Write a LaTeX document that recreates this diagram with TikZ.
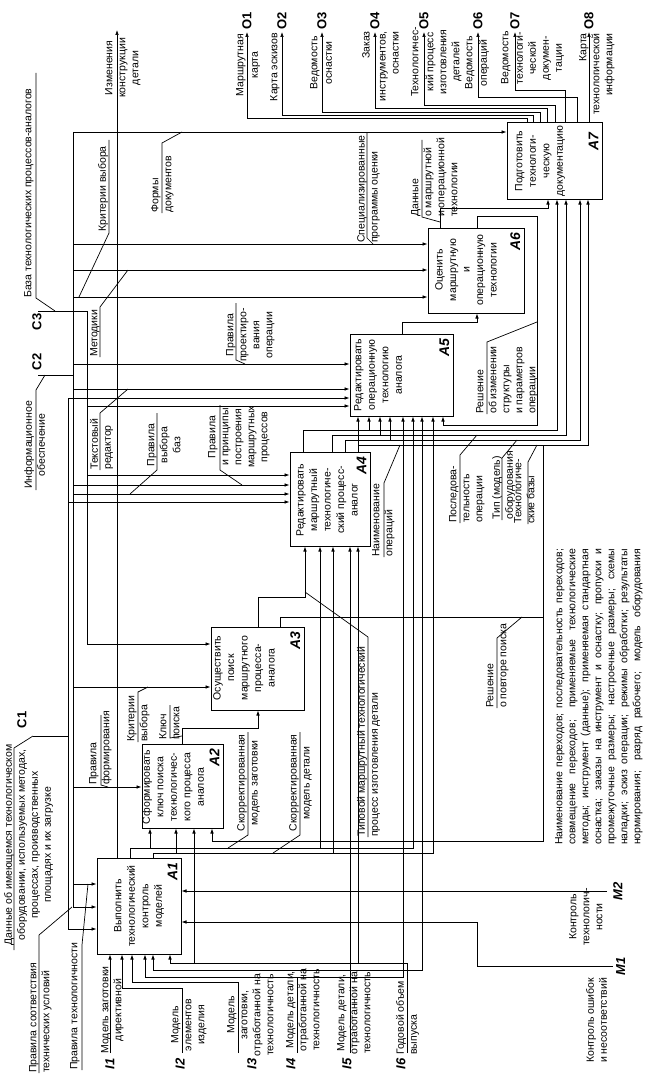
\documentclass[tikz,border=0pt]{standalone}
\usepackage{fontspec}
\setmainfont{Liberation Sans}
\usetikzlibrary{positioning,calc,fit,arrows.meta}

\newcommand{\lblfont}{\fontsize{10.5}{13}\selectfont}
\newcommand{\boxfont}{\fontsize{10.5}{13.5}\selectfont}
\newcommand{\tagfont}{\fontsize{13}{13}\selectfont\bfseries}
\newcommand{\numfont}{\fontsize{14}{14}\selectfont\bfseries\itshape}

\tikzset{
  blk/.style={draw, line width=1pt, inner sep=0pt, fit={#1}},
  ln/.style={line width=0.7pt},
  arr/.style={ln, -{Latex[length=5pt,width=3.6pt]}},
  lbl/.style={rotate=90, inner sep=0pt, font=\lblfont, align=center},
  lbll/.style={lbl, align=left},
  lblr/.style={lbl, align=right},
  btxt/.style={rotate=90, inner sep=0pt, font=\boxfont, align=center},
  num/.style={rotate=90, inner sep=0pt, font=\numfont, anchor=south east},
  tag/.style={rotate=90, inner sep=0pt, font=\tagfont},
  itag/.style={tag, font=\tagfont\itshape},
}

\begin{document}
\begin{tikzpicture}[x=1pt, y=-1pt]
\useasboundingbox (0,0) rectangle (649,1089);

% function blocks
\node[blk={(97,858)(181,954)}] (A1) {};
\node[blk={(142,744)(223,828)}] (A2) {};
\node[blk={(211,627)(304,710)}] (A3) {};
\node[blk={(290,452)(370,546)}] (A4) {};
\node[blk={(350,334)(453,416)}] (A5) {};
\node[blk={(428,228)(524,313)}] (A6) {};
\node[blk={(507,123)(602,199)}] (A7) {};

\node[btxt] at (139,906) {Выполнить\\технологический\\контроль\\моделей};
\node[btxt] at (173,787) {Сформировать\\ключ поиска\\технологичес-\\кого процесса\\аналога};
\node[btxt] at (244,668) {Осуществить\\поиск\\маршрутного\\процесса-\\аналога};
\node[btxt] at (327,500) {Редактировать\\маршрутный\\технологиче-\\ский процесс-\\аналог};
\node[btxt] at (378,375) {Редактировать\\операционную\\технологию\\аналога};
\node[btxt] at (466,270) {Оценить\\маршрутную\\и\\операционную\\технологии};
\node[btxt] at (540,161) {Подготовить\\технологи-\\ческую\\документацию};

\node[num] at ([xshift=-4pt,yshift=-5pt]A1.north east) {A1};
\node[num] at ([xshift=-4pt,yshift=-5pt]A2.north east) {A2};
\node[num] at ([xshift=-4pt,yshift=-5pt]A3.north east) {A3};
\node[num] at ([xshift=-4pt,yshift=-5pt]A4.north east) {A4};
\node[num] at ([xshift=-4pt,yshift=-5pt]A5.north east) {A5};
\node[num] at ([xshift=-4pt,yshift=-5pt]A6.north east) {A6};
\node[num] at ([xshift=-4pt,yshift=-10pt]A7.north east) {A7};

% controls
\coordinate (c1) at (33,736);
\coordinate (c2) at (38,375);
\coordinate (c3) at (38,311);
\node[tag] at (22,720) {C1};
\node[tag] at (37,362) {C2};
\node[tag] at (37,322) {C3};
\draw[ln] (c3) -| (87,644);
\draw[ln] (c2) -- (73,375);
\draw[ln] (73,132) -- (73,907);
\draw[ln] (c1) -| (68,398);
\draw[ln] (68,736) -- (68,929);
\draw[arr] (73,132) -- (0,132 -| A7.west);
\draw[arr] (73,244) -- (0,244 -| A6.west);
\draw[arr] (73,270) -- (0,270 -| A6.west);
\draw[arr] (73,297) -- (0,297 -| A6.west);
\draw[arr] (73,364) -- (0,364 -| A5.west);
\draw[arr] (73,389) -- (0,389 -| A5.west);
\draw[arr] (68,398) -- (0,398 -| A5.west);
\draw[arr] (87,406) -- (0,406 -| A5.west);
\draw[arr] (87,475) -- (0,475 -| A4.west);
\draw[arr] (73,485) -- (0,485 -| A4.west);
\draw[arr] (73,494) -- (0,494 -| A4.west);
\draw[arr] (68,502) -- (0,502 -| A4.west);
\draw[arr] (87,644) -- (0,644 -| A3.west);
\draw[arr] (73,687) -- (0,687 -| A3.west);
\draw[arr] (73,787) -- (0,787 -| A2.west);
\draw[arr] (73,884) -- (0,884 -| A1.west);
\draw[arr] (73,907) -- (0,907 -| A1.west);
\draw[arr] (68,929) -- (0,929 -| A1.west);

% control labels
\node[lbll, anchor=north west] at (24,298) {База технологических процессов-аналогов};
\draw[ln] (36,73) -- (36,298) -- (55,311);
\node[lbl, anchor=north] at (24,445) {Информационное\\обеспечение};
\draw[ln] (36,490) -- (36,390) -- (45,375);
\node[lbl, anchor=north] at (4,845) {Данные об имеющемся технологическом\\оборудовании, используемых методах,\\процессах, производственных\\площадях и их загрузке};
\draw[ln] (14,950) -- (14,748) -- (c1);
\node[lbll, anchor=north west] at (98,232) {Критерии выбора};
\draw[ln] (109,140) -- (109,233) -- (79,297);
\node[lbll, anchor=north west] at (151,213) {Формы\\документов};
\draw[ln] (162,213) -- (162,143) -- (182,132);
\node[lbll, anchor=north west] at (357,243) {Специализированные\\программы оценки};
\draw[ln] (367,133) -- (367,238) -- (373,244);
\node[lbll, anchor=north west] at (90,357) {Методики};
\draw[ln] (100,357) -- (100,307) -- (128,270);
\node[lbl, anchor=north] at (226,335) {Правила\\проектиро-\\вания\\операции};
\draw[ln] (236,303) -- (236,360) -- (245,364);
\node[lbll, anchor=north west] at (90,470) {Текстовый\\редактор};
\draw[ln] (100,470) -- (100,413) -- (128,389);
\node[lbl, anchor=north] at (147,445) {Правила\\выбора\\баз};
\draw[ln] (157,413) -- (157,470) -- (130,494);
\node[lbl, anchor=north] at (208,437) {Правила\\и принципы\\построения\\маршрутных\\процессов};
\draw[ln] (220,405) -- (220,470) -- (242,485);
\node[lbll, anchor=north west] at (127,742) {Критерии\\выбора};
\draw[ln] (138,742) -- (138,692) -- (148,687);
\node[lbll, anchor=north west] at (89,785) {Правила\\формирования};
\draw[ln] (101,715) -- (101,785) -- (108,787);
\node[lbll, anchor=north west] at (70,1070) {Правила технологичности};
\draw[ln] (82,1070) -- (82,945) -- (88,884);
\node[lbll, anchor=north west] at (29,1073) {Правила соответствия\\технических условий};
\draw[ln] (39,1073) -- (39,935) -- (72,907);

% outputs
\coordinate (o1) at (247,32);
\coordinate (o2) at (282,32);
\coordinate (o3) at (322,32);
\coordinate (o4) at (375,32);
\coordinate (o5) at (424,32);
\coordinate (o6) at (478,32);
\coordinate (o7) at (515,32);
\coordinate (o8) at (589,32);
\draw[arr] (527,0 |- A7.north) |- (247,118) -- (o1);
\draw[arr] (533,0 |- A7.north) |- (282,115) -- (o2);
\draw[arr] (540,0 |- A7.north) |- (322,112) -- (o3);
\draw[arr] (547,0 |- A7.north) |- (375,108) -- (o4);
\draw[arr] (555,0 |- A7.north) |- (424,105) -- (o5);
\draw[arr] (577,0 |- A7.north) |- (478,97) -- (o6);
\draw[arr] (565,0 |- A7.north) |- (515,90) -- (o7);
\draw[arr] (589,0 |- A7.north) -- (o8);
\node[tag, anchor=west] at ([yshift=2pt]o1) {O1};
\node[tag, anchor=west] at ([yshift=2pt]o2) {O2};
\node[tag, anchor=west] at ([yshift=2pt]o3) {O3};
\node[tag, anchor=west] at ([yshift=2pt]o4) {O4};
\node[tag, anchor=west] at ([yshift=2pt]o5) {O5};
\node[tag, anchor=west] at ([yshift=2pt]o6) {O6};
\node[tag, anchor=west] at ([yshift=2pt]o7) {O7};
\node[tag, anchor=west] at ([yshift=2pt]o8) {O8};
\node[lbl, anchor=north] at (236,65) {Маршрутная\\[1.5pt]карта};
\node[lbl, anchor=north] at (270,67) {Карта эскизов};
\node[lbl, anchor=north] at (310,63) {Ведомость\\[1.5pt]оснастки};
\node[lblr, anchor=north east] at (362,31) {Заказ\\[3pt]инструментов,\\оснастки};
\node[lbl, anchor=north] at (411,62) {Технологичес-\\[2pt]кий процесс\\изготовления\\деталей};
\node[lbl, anchor=north] at (465,63) {Ведомость\\[1.5pt]операций};
\node[lbl, anchor=north] at (501,58) {Ведомость\\[1.5pt]технологи-\\ческой\\докумен-\\тации};
\node[lblr, anchor=north east] at (579,33) {Карта\\технологической\\информации};

% links between blocks
\draw[arr] (440,0 |- A6.north) |- (548,208) -- (548,0 |- A7.south);
\draw[arr] (477,0 |- A6.north) |- (537,216) |- (443,425) -- (443,0 |- A5.south);
\draw[arr] (402,0 |- A5.north) |- (477,322) -- (477,0 |- A6.south);
\draw[arr] (303,0 |- A4.north) |- (557,430) -- (557,0 |- A7.south);
\draw[arr] (332,0 |- A4.north) |- (566,435) -- (566,0 |- A7.south);
\draw[arr] (345,0 |- A4.north) |- (580,440) -- (580,0 |- A7.south);
\draw[arr] (358,0 |- A4.north) |- (588,445) -- (588,0 |- A7.south);
\draw[arr] (369,430) -- (369,0 |- A5.south);
\draw[arr] (380,435) -- (380,0 |- A5.south);
\draw[arr] (390,440) -- (390,0 |- A5.south);
\draw[arr] (358,445) -- (358,0 |- A5.south);
\draw[arr] (258,0 |- A3.north) |- (305,597) -- (305,0 |- A4.south);
\draw[arr] (280,0 |- A3.north) |- (543,617) |- (212,841) -- (212,0 |- A2.south);
\draw[ln] (543,445) -- (543,617);
\draw[arr] (182,0 |- A2.north) |- (258,728) -- (258,0 |- A3.south);
\draw[arr] (117,0 |- A1.north) -- (117,30);
\draw[arr] (130,0 |- A1.north) |- (413,848) -- (413,0 |- A5.south);
\draw[arr] (153,0 |- A1.north) |- (433,853) -- (433,0 |- A5.south);
\draw[arr] (150,848) -- (150,0 |- A2.south);
\draw[arr] (176,853) -- (176,0 |- A2.south);
\draw[arr] (320,848) -- (320,0 |- A4.south);
\draw[arr] (333,853) -- (333,0 |- A4.south);

% link labels
\node[lbl, anchor=north] at (105,68) {Изменения\\конструкции\\детали};
\node[lbll, anchor=north west] at (411,217) {Данные\\о маршрутной\\и операционной\\технологии};
\draw[ln] (422,140) -- (422,217) -- (440,222);
\node[lbll, anchor=north west] at (476,414) {Решение\\об изменении\\структуры\\и параметров\\операции};
\draw[ln] (487,414) -- (487,342) -- (537,322);
\node[lbll, anchor=north west] at (449,523) {Последова-\\тельность\\операции};
\draw[ln] (460,523) -- (460,455) -- (477,435);
\node[lbll, anchor=north west] at (492,520) {Тип (модель)\\оборудования};
\draw[ln] (502,520) -- (502,458) -- (517,440);
\node[lbll, anchor=north west] at (514,524) {Технологиче-\\ские базы};
\draw[ln] (528,524) -- (528,462) -- (537,445);
\node[lbll, anchor=north west] at (372,557) {Наименование\\операций};
\draw[ln] (384,557) -- (384,483) -- (400,445);
\node[lbll, anchor=north west] at (486,708) {Решение\\о повторе поиска};
\draw[ln] (497,708) -- (497,638) -- (522,617);
\node[lbll, anchor=north west] at (357,837) {Типовой маршрутный технологический\\процесс изготовления детали};
\draw[ln] (368,837) -- (368,637) -- (305,592);
\node[lbl, anchor=north] at (237,783) {Скорректированная\\модель заготовки};
\draw[ln] (248,732) -- (248,835) -- (228,848);
\node[lbl, anchor=north] at (289,783) {Скорректированная\\модель детали};
\draw[ln] (300,732) -- (300,835) -- (273,853);
\node[lbll, anchor=north west] at (159,740) {Ключ\\поиска};
\draw[ln] (170,705) -- (170,738) -- (182,736);
\node[rotate=90, anchor=north west, inner sep=0pt, font=\lblfont, align=left] at (555,845) {%
\makebox[296pt][s]{Наименование переходов; последовательность переходов;}\\
\makebox[296pt][s]{совмещение переходов; применяемые технологические}\\
\makebox[296pt][s]{методы; инструмент (данные); применяемая стандартная}\\
\makebox[296pt][s]{оснастка; заказы на инструмент и оснастку; пропуски и}\\
\makebox[296pt][s]{промежуточные размеры; настроечные размеры; схемы}\\
\makebox[296pt][s]{наладки; эскиз операции; режимы обработки; результаты}\\
\makebox[296pt][s]{нормирования; разряд рабочего; модель оборудования}};

% inputs
\coordinate (i1) at (110,1053);
\coordinate (i2) at (182,1053);
\coordinate (i3) at (238,1053);
\coordinate (i4) at (297,1053);
\coordinate (i5) at (350,1053);
\coordinate (i6) at (407,1053);
\draw[arr] (i1) -- (110,0 |- A1.south);
\draw[arr] (i2) |- (122,988) -- (122,0 |- A1.south);
\draw[arr] (i3) |- (132,982) -- (132,0 |- A1.south);
\draw[arr] (i4) |- (145,977) -- (145,0 |- A1.south);
\draw[arr] (297,977) -| (403,0 |- A5.south);
\draw[arr] (i5) -- (350,0 |- A4.south);
\draw[arr] (350,970) -| (153,0 |- A1.south);
\draw[arr] (350,970) -| (422,0 |- A5.south);
\draw[arr] (i6) |- (170,963) -- (170,0 |- A1.south);
\draw[arr] (194,963) -- (194,0 |- A2.south);
\draw[arr] (358,963) -- (358,0 |- A4.south);
\node[itag, anchor=east] at ([yshift=-5pt]i1) {I1};
\node[itag, anchor=east] at ([xshift=-2pt,yshift=-5pt]i2) {I2};
\node[itag, anchor=east] at ([xshift=14pt,yshift=-5pt]i3) {I3};
\node[itag, anchor=east] at ([xshift=-6pt,yshift=-5pt]i4) {I4};
\node[itag, anchor=east] at ([xshift=-3pt,yshift=-5pt]i5) {I5};
\node[itag, anchor=east] at ([xshift=-6pt,yshift=-5pt]i6) {I6};
\node[lbl, anchor=north] at (101,1010) {Модель заготовки\\директивной};
\node[lbl, anchor=north] at (171,1025) {Модель\\элементов\\изделия};
\node[lbl, anchor=north] at (227,1015) {Модель\\заготовки,\\отработанной на\\технологичность};
\node[lbl, anchor=north] at (286,1010) {Модель детали,\\отработанной на\\технологичность};
\node[lbl, anchor=north] at (337,1013) {Модель детали,\\отработанной на\\технологичность};
\node[lbll, anchor=north west] at (396,1055) {Годовой объем\\выпуска};

% mechanisms
\coordinate (m1) at (613,966);
\coordinate (m2) at (607,891);
\draw[arr] (m2) -- (0,891 -| A1.east);
\draw[arr] (m1) -| (477,922) -- (0,922 -| A1.east);
\node[itag, anchor=north] at ([xshift=6pt]m2) {M2};
\node[itag, anchor=north] at ([xshift=3pt]m1) {M1};
\node[lbl, anchor=north] at (569,917) {Контроль\\технологич-\\ности};
\node[lbll, anchor=north west] at (586,1063) {Контроль ошибок\\и несоответствий};

\end{tikzpicture}
\end{document}
